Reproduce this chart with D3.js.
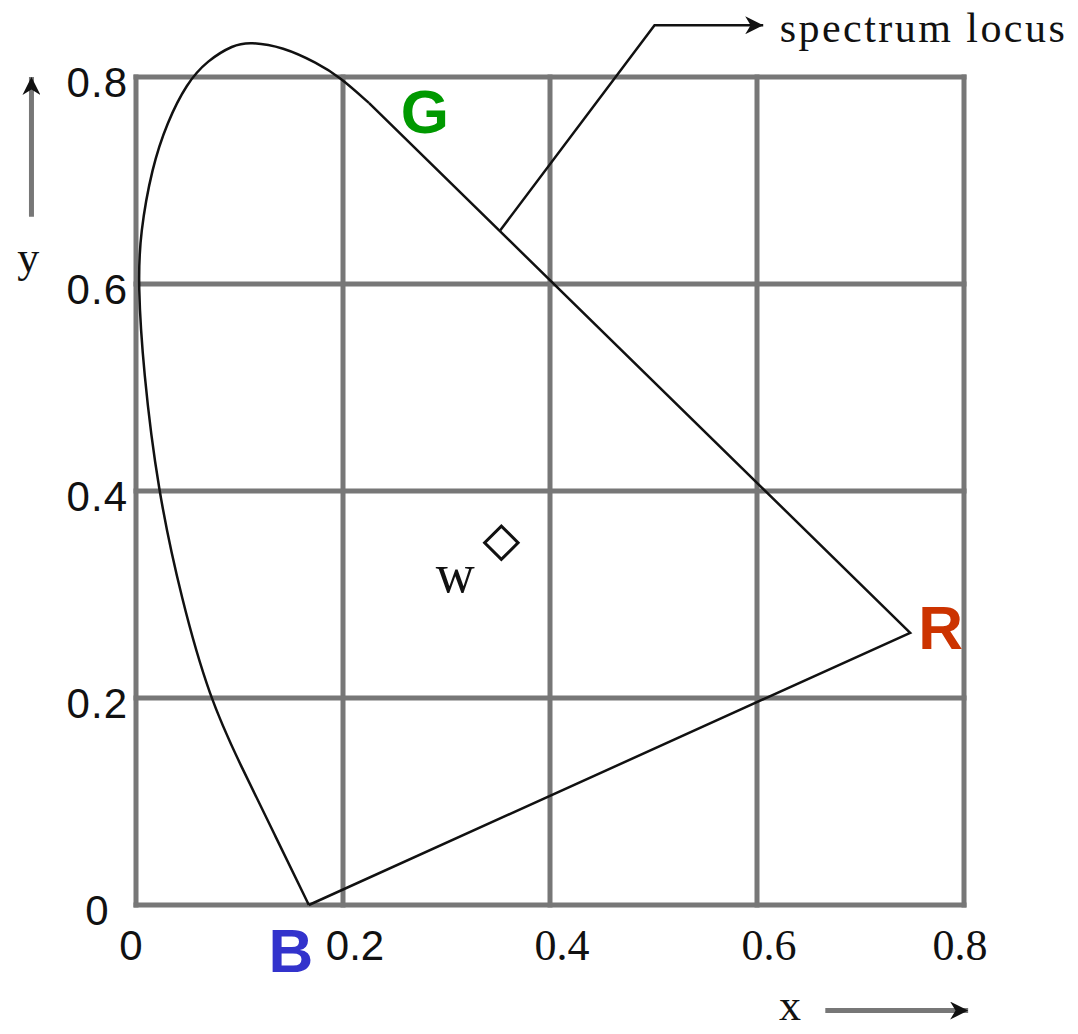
<!DOCTYPE html>
<html>
<head>
<meta charset="utf-8">
<script src="https://cdn.jsdelivr.net/npm/d3@7"></script>
<style>
  body { margin: 0; background: #fff; }
  svg { display: block; }
</style>
</head>
<body>
<div id="chart"></div>
<script>
const width = 1078;
const height = 1034;

// plot box in pixels
const plotLeft = 136;
const plotTop = 77;
const plotSize = 828;

// data
const gridTicks = [0, 0.2, 0.4, 0.6, 0.8];
const xTickLabels = ['0.2', '0.4', '0.6', '0.8'];
const yTickLabels = ['0.2', '0.4', '0.6', '0.8'];

// spectrum locus (curved part), from the blue end up and over the green peak
const locusX = [0.167, 0.134, 0.101, 0.071, 0.044, 0.021, 0.007, 0.002, 0.004, 0.0155, 0.030, 0.049, 0.069, 0.094, 0.110, 0.142, 0.175, 0.197, 0.225];
const locusY = [0.000, 0.068, 0.135, 0.200, 0.295, 0.401, 0.517, 0.600, 0.649, 0.713, 0.756, 0.794, 0.816, 0.831, 0.834, 0.829, 0.8135, 0.800, 0.775];

// primaries
const primaryNames = ['R', 'G', 'B'];
const primaryX = [0.748, 0.225, 0.167];
const primaryY = [0.263, 0.775, 0.000];
const primaryColors = ['#cc3300', '#009900', '#3333cc'];

// white point
const whiteX = 0.353;
const whiteY = 0.350;

const svg = d3
  .select('#chart')
  .append('svg')
  .attr('width', width)
  .attr('height', height);

const x = d3.scaleLinear().domain([0, 0.8]).range([plotLeft, plotLeft + plotSize]);
const y = d3.scaleLinear().domain([0, 0.8]).range([plotTop + plotSize, plotTop]);

const defs = svg.append('defs');
defs
  .append('marker')
  .attr('id', 'head')
  .attr('viewBox', '0 0 10 10')
  .attr('refX', 10)
  .attr('refY', 5)
  .attr('markerWidth', 30)
  .attr('markerHeight', 18)
  .attr('markerUnits', 'userSpaceOnUse')
  .attr('orient', 'auto')
  .append('path')
  .attr('d', 'M0,0 L10,5 L0,10 L3,5 Z')
  .attr('fill', '#111');

// grid
const grid = svg.append('g').attr('stroke', '#777').attr('stroke-width', 5);
grid
  .selectAll('line.v')
  .data(gridTicks)
  .enter()
  .append('line')
  .attr('class', 'v')
  .attr('x1', (d) => x(d))
  .attr('x2', (d) => x(d))
  .attr('y1', y(0) + 2.5)
  .attr('y2', y(0.8) - 2.5);
grid
  .selectAll('line.h')
  .data(gridTicks)
  .enter()
  .append('line')
  .attr('class', 'h')
  .attr('y1', (d) => y(d))
  .attr('y2', (d) => y(d))
  .attr('x1', x(0) - 2.5)
  .attr('x2', x(0.8) + 2.5);

// tick labels
const yLab = svg
  .append('g')
  .attr('font-family', '"Liberation Sans", Arial, sans-serif')
  .attr('font-size', 42)
  .attr('fill', '#111');
yLab
  .selectAll('text')
  .data(yTickLabels)
  .enter()
  .append('text')
  .attr('x', x(0) - 8)
  .attr('y', (d) => y(+d) + 20)
  .attr('text-anchor', 'end')
  .attr('letter-spacing', 1)
  .text((d) => d);
yLab
  .append('text')
  .attr('x', x(0) - 39)
  .attr('y', y(0) + 20)
  .attr('text-anchor', 'middle')
  .text('0');
yLab
  .append('text')
  .attr('x', x(0) - 5)
  .attr('y', y(0) + 55)
  .attr('text-anchor', 'middle')
  .text('0');

svg
  .append('g')
  .attr('fill', '#111')
  .selectAll('text')
  .data(xTickLabels)
  .enter()
  .append('text')
  .attr('x', (d, i) => x(+d) + (i === 3 ? -4 : 12))
  .attr('y', y(0) + 55)
  .attr('text-anchor', 'middle')
  .attr('font-family', (d, i) =>
    i === 0 ? '"Liberation Sans", Arial, sans-serif' : '"Liberation Serif", "Times New Roman", serif'
  )
  .attr('font-size', (d, i) => (i === 0 ? 42 : 44))
  .text((d) => d);

// spectrum locus
const locus = locusX.map((d, i) => [d, locusY[i]]);
const line = d3
  .line()
  .x((d) => x(d[0]))
  .y((d) => y(d[1]));

svg
  .append('path')
  .attr('d', line.curve(d3.curveBasis)(locus))
  .attr('fill', 'none')
  .attr('stroke', '#111')
  .attr('stroke-width', 2.5);

// straight edges G -> R -> B
const edges = [
  [primaryX[1], primaryY[1]],
  [primaryX[0], primaryY[0]],
  [primaryX[2], primaryY[2]],
];
svg
  .append('path')
  .attr('d', line.curve(d3.curveLinear)(edges))
  .attr('fill', 'none')
  .attr('stroke', '#111')
  .attr('stroke-width', 2.5)
  .attr('stroke-linejoin', 'miter');

// primary labels
const primaryOffsets = [
  [8, 16, 'start'],
  [56, 30, 'middle'],
  [-18, 67, 'middle'],
];
svg
  .append('g')
  .attr('font-family', '"Liberation Sans", Arial, sans-serif')
  .attr('font-weight', 'bold')
  .attr('font-size', 62)
  .selectAll('text')
  .data(primaryNames)
  .enter()
  .append('text')
  .attr('x', (d, i) => x(primaryX[i]) + primaryOffsets[i][0])
  .attr('y', (d, i) => y(primaryY[i]) + primaryOffsets[i][1])
  .attr('text-anchor', (d, i) => primaryOffsets[i][2])
  .attr('fill', (d, i) => primaryColors[i])
  .text((d) => d);

// white point
svg
  .append('path')
  .attr('d', d3.symbol(d3.symbolSquare, 560)())
  .attr('transform', `translate(${x(whiteX)},${y(whiteY)}) rotate(45)`)
  .attr('fill', 'none')
  .attr('stroke', '#111')
  .attr('stroke-width', 3);
svg
  .append('text')
  .attr('x', x(whiteX) - 46)
  .attr('y', y(whiteY) + 49)
  .attr('text-anchor', 'middle')
  .attr('font-family', '"Liberation Serif", "Times New Roman", serif')
  .attr('font-size', 54)
  .attr('fill', '#111')
  .text('w');

// spectrum locus pointer
const pointer = [
  [0.352, 0.652],
  [0.501, 0.850],
  [0.606, 0.850],
];
svg
  .append('path')
  .attr('d', line.curve(d3.curveLinear)(pointer))
  .attr('fill', 'none')
  .attr('stroke', '#111')
  .attr('stroke-width', 2.5)
  .attr('marker-end', 'url(#head)');
svg
  .append('text')
  .attr('x', x(0.622))
  .attr('y', y(0.850) + 17)
  .attr('font-family', '"Liberation Serif", "Times New Roman", serif')
  .attr('font-size', 42)
  .attr('fill', '#111')
  .attr('textLength', 285)
  .attr('lengthAdjust', 'spacing')
  .text('spectrum locus');

// axis arrows
svg
  .append('line')
  .attr('x1', x(-0.101))
  .attr('x2', x(-0.101))
  .attr('y1', y(0.665))
  .attr('y2', y(0.8))
  .attr('stroke', '#777')
  .attr('stroke-width', 5)
  .attr('marker-end', 'url(#head)');
svg
  .append('line')
  .attr('x1', x(0.666))
  .attr('x2', x(0.804))
  .attr('y1', y(-0.102))
  .attr('y2', y(-0.102))
  .attr('stroke', '#777')
  .attr('stroke-width', 5)
  .attr('marker-end', 'url(#head)');

const axisNames = svg
  .append('g')
  .attr('font-family', '"Liberation Serif", "Times New Roman", serif')
  .attr('font-size', 44)
  .attr('fill', '#111')
  .attr('text-anchor', 'middle');
axisNames.append('text').attr('x', x(-0.104)).attr('y', y(0.612)).text('y');
axisNames.append('text').attr('x', x(0.632)).attr('y', y(-0.111)).text('x');
</script>
</body>
</html>
